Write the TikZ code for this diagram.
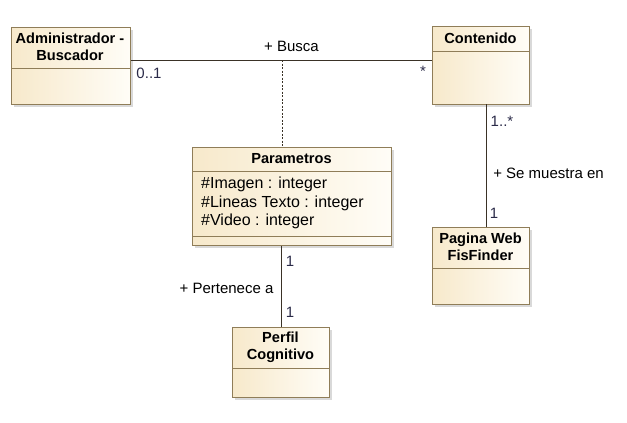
\documentclass[tikz,border=0pt]{standalone}
\usepackage{fontspec}
\setmainfont{Liberation Sans}
\usetikzlibrary{shadows}
\definecolor{bordc}{HTML}{8F7D58}
\definecolor{fillL}{HTML}{F7E9CB}
\definecolor{fillR}{HTML}{FFFDF7}
\definecolor{linec}{HTML}{3A3226}
\definecolor{multc}{HTML}{2A2A48}
\tikzset{
  cls/.style={draw=bordc, line width=1pt, left color=fillL, right color=fillR, anchor=north west, inner sep=0pt,
    drop shadow={shadow xshift=2pt, shadow yshift=-2pt, fill=black!25, opacity=0.6}},
  divider/.style={draw=bordc, line width=1pt},
  ttl/.style={font=\fontsize{14.6}{17.5}\selectfont\bfseries, align=center, inner sep=0pt},
  attr/.style={font=\fontsize{16}{19}\selectfont, anchor=west, inner sep=0pt},
  lbl/.style={font=\fontsize{15}{17}\selectfont, inner sep=0pt},
  mult/.style={font=\fontsize{15}{17}\selectfont, text=multc, inner sep=0pt},
  assoc/.style={draw=linec, line width=0.9pt},
}
\begin{document}
\begin{tikzpicture}[x=1pt, y=-1pt]
\useasboundingbox (0,0) rectangle (627,423);
% Administrador
\node[cls, minimum width=119pt, minimum height=77pt] (admin) at (11,27) {};
\draw[divider] (11,68) -- (130,68);
\node[ttl] (admint) at (70,47) {Administrador -\\Buscador};
% Contenido
\node[cls, minimum width=97pt, minimum height=78pt] (cont) at (432,26) {};
\draw[divider] (432,51) -- (529,51);
\node[ttl] (contt) at (480.5,38.5) {Contenido};
% Parametros
\node[cls, minimum width=199pt, minimum height=98pt] (param) at (192,147) {};
\draw[divider] (192,171) -- (391,171);
\draw[divider] (192,236) -- (391,236);
\node[ttl] (paramt) at (291.5,159) {Parametros};
\node[attr] (a1) at (201,184) {\#Imagen : integer};
\node[attr] (a2) at (201,203) {\#Lineas Texto : integer};
\node[attr] (a3) at (201,221.5) {\#Video : integer};
% Perfil
\node[cls, minimum width=97pt, minimum height=70pt] (perfil) at (232,327) {};
\draw[divider] (232,368) -- (329,368);
\node[ttl] (perfilt) at (280.5,347.5) {Perfil\\Cognitivo};
% Pagina
\node[cls, minimum width=97pt, minimum height=77pt] (pag) at (432,227) {};
\draw[divider] (432,268) -- (529,268);
\node[ttl] (pagt) at (480.5,247) {Pagina Web\\FisFinder};
% connectors
\coordinate (ab) at (282,60);
\coordinate (cp) at (486,104);
\draw[assoc] (admin.east |- ab) -- (cont.west |- ab);
\draw[assoc, dashed, line width=0.6pt, dash pattern=on 2pt off 1.5pt] (ab) -- (param.north -| ab);
\draw[assoc] (cp) -- (pag.north -| cp);
\draw[assoc] (param.south -| perfil.north) -- (perfil.north);
% labels
\node[lbl] (busca) at (291.5,46) {+ Busca};
\node[mult] (m01) at (149,73.5) {0..1};
\node[mult] (mst) at (423,71) {*};
\node[mult] (m1s) at (502,121) {1..*};
\node[lbl] (muestra) at (548.5,173) {+ Se muestra en};
\node[mult] (m1p) at (494,213) {1};
\node[mult] (m1a) at (290,261) {1};
\node[lbl] (pert) at (226.5,288.5) {+ Pertenece a};
\node[mult] (m1b) at (290,312.5) {1};
\end{tikzpicture}
\end{document}
